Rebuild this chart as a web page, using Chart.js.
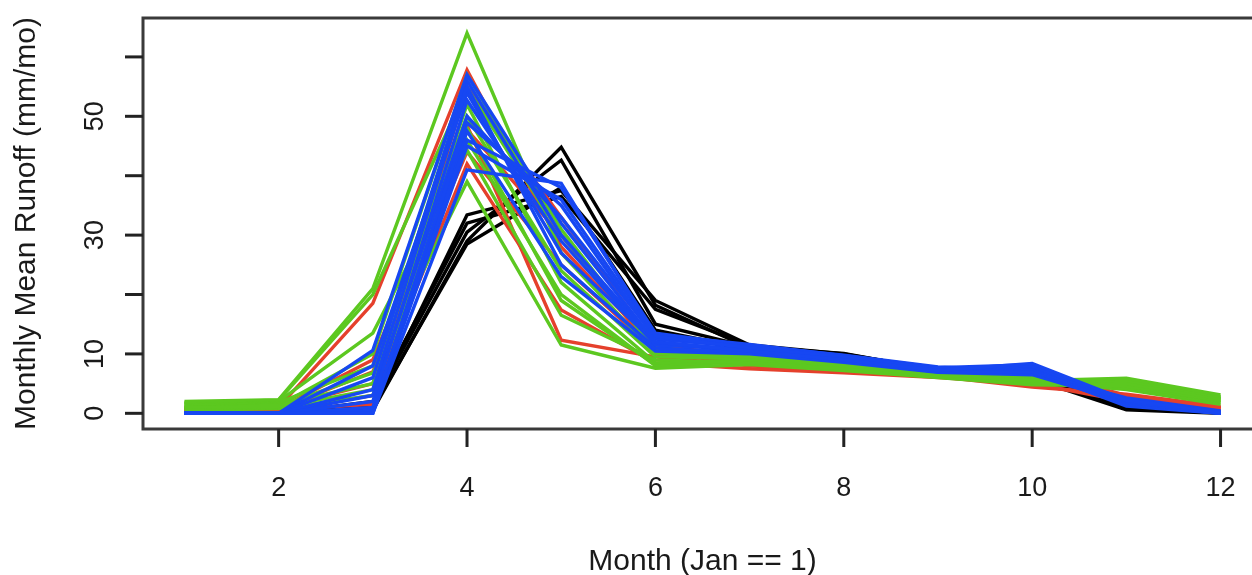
<!DOCTYPE html>
<html>
<head>
<meta charset="utf-8">
<script src="https://cdn.jsdelivr.net/npm/chart.js@4/dist/chart.umd.min.js"></script>
<style>
  html, body { margin: 0; padding: 0; background: #fff; overflow: hidden; }
  #wrap { width: 1252px; height: 575px; overflow: hidden; }
</style>
</head>
<body>
<div id="wrap"><canvas id="runoff" width="1280" height="575"></canvas></div>
<script>
const months = [1, 2, 3, 4, 5, 6, 7, 8, 9, 10, 11, 12];

const xTicks = [2, 4, 6, 8, 10, 12];
const yTicks = [0, 10, 20, 30, 40, 50, 60];
// R drops the labels that would overlap
const yTickLabels = ['0', '10', '', '30', '', '50', ''];

const blackRuns = [
  [0, 0, 1.0, 33.4, 37.5, 19.0, 11.5, 10.0, 7.3, 6.0, 1.0, 0.1],
  [0, 0, 0.5, 29.0, 44.8, 18.2, 11.0, 9.8, 7.0, 5.8, 0.6, 0.0],
  [0, 0, 1.5, 30.5, 42.6, 15.0, 11.2, 10.1, 7.2, 6.2, 1.2, 0.2],
  [0, 0.1, 0.8, 28.5, 38.0, 14.0, 10.8, 9.6, 7.1, 5.9, 0.8, 0.1],
  [0, 0, 2.0, 32.0, 36.5, 17.5, 11.4, 9.9, 7.4, 6.1, 1.5, 0.3],
];

const redRuns = [
  [1.0, 1.0, 18.5, 57.8, 28.0, 11.0, 9.0, 7.5, 6.5, 7.3, 3.0, 1.0],
  [0.5, 0.8, 9.0, 47.7, 30.0, 10.0, 8.5, 7.0, 6.3, 6.5, 2.5, 0.8],
  [0.3, 0.5, 3.0, 42.0, 17.4, 8.5, 7.5, 6.8, 6.0, 5.0, 2.0, 0.5],
  [0.8, 1.0, 5.0, 48.5, 12.3, 9.5, 8.0, 7.0, 6.2, 4.4, 3.2, 1.2],
  [0.4, 0.6, 1.5, 55.0, 33.0, 11.5, 9.5, 8.5, 6.8, 4.8, 2.6, 0.9],
  [0.6, 0.7, 7.0, 44.0, 25.0, 10.5, 8.8, 7.8, 6.5, 5.8, 2.8, 1.0],
];

const greenRuns = [
  [2.0, 2.3, 21.0, 64.0, 27.0, 10.0, 9.5, 8.0, 6.5, 5.5, 5.9, 3.1],
  [1.8, 2.2, 20.0, 54.8, 30.0, 11.0, 9.8, 8.5, 6.8, 5.2, 5.5, 2.8],
  [1.5, 2.0, 13.5, 44.3, 16.5, 9.0, 8.5, 7.5, 6.3, 5.0, 5.0, 2.5],
  [1.0, 1.2, 6.8, 39.0, 11.5, 7.6, 8.2, 7.2, 6.0, 4.8, 4.6, 2.2],
  [1.2, 1.5, 5.0, 52.0, 22.0, 8.5, 9.0, 7.8, 6.2, 5.6, 4.8, 2.0],
  [0.8, 1.0, 4.0, 46.0, 20.0, 8.0, 8.8, 7.6, 6.1, 5.3, 4.3, 1.8],
  [1.6, 1.8, 8.0, 50.0, 24.0, 9.5, 9.2, 8.2, 6.6, 5.7, 5.2, 2.6],
  [0.5, 0.8, 3.0, 48.0, 19.0, 8.2, 8.6, 7.4, 6.4, 5.4, 4.0, 1.5],
  [1.0, 1.3, 10.0, 57.0, 31.0, 10.5, 10.0, 9.0, 7.0, 6.0, 4.5, 2.4],
];

const blueRuns = [
  [0, 0, 10.6, 57.0, 32.0, 12.0, 10.5, 9.0, 7.2, 8.4, 2.2, 0.2],
  [0, 0, 0, 41.0, 38.7, 13.0, 11.0, 9.5, 7.5, 8.0, 2.0, 0],
  [0, 0, 2.0, 52.7, 29.0, 11.5, 10.8, 9.2, 7.4, 7.8, 1.8, 0.1],
  [0, 0, 0.5, 48.9, 35.0, 12.5, 11.2, 9.6, 7.6, 7.5, 1.5, 0],
  [0, 0, 4.0, 55.0, 25.0, 11.0, 10.2, 8.8, 7.0, 7.0, 2.4, 0.3],
  [0, 0, 1.0, 46.0, 38.0, 13.5, 11.4, 9.8, 7.8, 7.2, 1.2, 0],
  [0, 0, 6.0, 56.0, 30.0, 12.0, 10.6, 9.0, 7.3, 6.8, 2.6, 0.4],
  [0, 0, 0, 47.5, 23.0, 10.5, 10.0, 8.6, 6.9, 6.5, 1.8, 0.1],
  [0, 0, 3.0, 50.0, 33.0, 12.8, 11.0, 9.4, 7.5, 7.6, 2.0, 0.2],
  [0, 0, 8.0, 54.0, 27.0, 11.8, 10.4, 8.9, 7.1, 7.9, 2.2, 0.2],
  [0, 0, 0.2, 45.0, 36.0, 13.2, 11.6, 9.7, 7.7, 8.2, 1.6, 0],
];

const groups = [
  { runs: blackRuns, color: '#000000' },
  { runs: redRuns, color: '#E5402C' },
  { runs: greenRuns, color: '#5CC820' },
  { runs: blueRuns, color: '#1747F2' },
];

const FONT = '"Liberation Sans", Arial, Helvetica, sans-serif';

function toPoints(values) {
  return months.map((m, i) => ({ x: m, y: values[i] }));
}

// later groups sit on top, like successive lines() calls in R
const datasets = [];
groups.forEach((group, g) => {
  group.runs.forEach((run) => {
    datasets.push({
      data: toPoints(run),
      borderColor: group.color,
      borderWidth: 3.4,
      pointRadius: 0,
      fill: false,
      tension: 0,
      order: groups.length - g,
    });
  });
});

const rAxes = {
  id: 'rAxes',
  afterDraw(chart) {
    const { ctx, chartArea, scales } = chart;
    const { left, right, top, bottom } = chartArea;
    ctx.save();

    ctx.strokeStyle = '#3a3a3a';
    ctx.lineWidth = 3;
    ctx.strokeRect(left, top, right - left, bottom - top);

    ctx.strokeStyle = '#222';
    ctx.fillStyle = '#1a1a1a';
    ctx.lineWidth = 3;
    ctx.font = '27px ' + FONT;

    // x axis
    ctx.textAlign = 'center';
    ctx.textBaseline = 'alphabetic';
    xTicks.forEach((v) => {
      const px = scales.x.getPixelForValue(v);
      ctx.beginPath();
      ctx.moveTo(px, bottom);
      ctx.lineTo(px, bottom + 18);
      ctx.stroke();
      ctx.fillText(String(v), px, bottom + 67);
    });

    // y axis
    yTicks.forEach((v, i) => {
      const py = scales.y.getPixelForValue(v);
      ctx.beginPath();
      ctx.moveTo(left - 18, py);
      ctx.lineTo(left, py);
      ctx.stroke();
      if (yTickLabels[i]) {
        ctx.save();
        ctx.translate(left - 40, py);
        ctx.rotate(-Math.PI / 2);
        ctx.fillText(yTickLabels[i], 0, 0);
        ctx.restore();
      }
    });

    // axis titles
    ctx.font = '30px ' + FONT;
    ctx.fillText('Month (Jan == 1)', (left + right) / 2, 570);
    ctx.save();
    ctx.translate(35, (top + bottom) / 2);
    ctx.rotate(-Math.PI / 2);
    ctx.fillText('Monthly Mean Runoff (mm/mo)', 0, 0);
    ctx.restore();

    ctx.restore();
  },
};

new Chart(document.getElementById('runoff'), {
  type: 'line',
  data: { datasets },
  options: {
    responsive: false,
    animation: false,
    devicePixelRatio: 1,
    layout: { padding: { left: 143, top: 18, right: 18, bottom: 146 } },
    plugins: { legend: { display: false }, tooltip: { enabled: false } },
    scales: {
      x: { type: 'linear', min: 0.56, max: 12.44, display: false },
      y: { type: 'linear', min: -2.64, max: 66.55, display: false },
    },
  },
  plugins: [rAxes],
});
</script>
</body>
</html>
